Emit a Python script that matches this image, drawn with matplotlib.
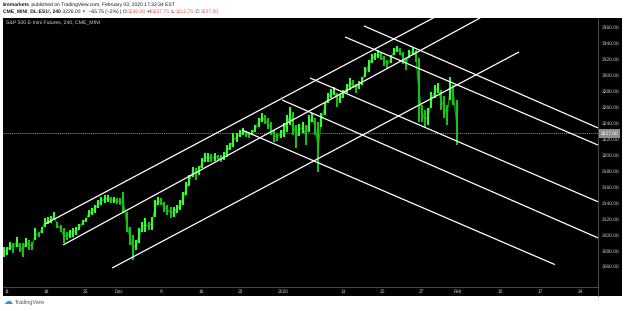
import numpy as np
import matplotlib
matplotlib.use('Agg')
import matplotlib.pyplot as plt
from matplotlib.patches import Rectangle
from matplotlib.lines import Line2D

plt.rcParams['font.family'] = ['Liberation Sans', 'DejaVu Sans']
plt.rcParams['text.hinting'] = 'no_hinting'

# 240分足を数本ずつまとめた高値・安値 (11月11日〜1月31日)
highs = [3085, 3085, 3091, 3090, 3097, 3090, 3090, 3096, 3093, 3091,
         3108, 3103, 3110, 3121, 3122, 3123, 3128, 3116, 3112, 3108,
         3103, 3106, 3108, 3110, 3113, 3118, 3121, 3131, 3133, 3137,
         3144, 3147, 3150, 3150, 3147, 3147, 3146, 3146, 3154, 3128,
         3110, 3100, 3093, 3108, 3116, 3121, 3116, 3122, 3144, 3147,
         3146, 3141, 3137, 3135, 3135, 3137, 3144, 3154, 3166, 3175,
         3185, 3184, 3186, 3196, 3203, 3203, 3201, 3203, 3200, 3200,
         3204, 3213, 3215, 3228, 3228, 3231, 3234, 3230, 3229, 3231,
         3238, 3246, 3253, 3250, 3246, 3241, 3231, 3228, 3231, 3240,
         3250, 3260, 3254, 3238, 3239, 3241, 3238, 3250, 3253, 3246,
         3241, 3253, 3267, 3278, 3283, 3285, 3278, 3277, 3282, 3289,
         3297, 3294, 3289, 3293, 3298, 3310, 3319, 3327, 3328, 3332,
         3329, 3324, 3319, 3325, 3334, 3337, 3334, 3329, 3322, 3332,
         3335, 3332, 3322, 3263, 3256, 3259, 3279, 3288, 3290, 3282,
         3274, 3263, 3298, 3288, 3269]
lows = [3072, 3075, 3081, 3077, 3085, 3078, 3072, 3085, 3081, 3081,
        3093, 3097, 3102, 3110, 3113, 3115, 3118, 3108, 3103, 3090,
        3093, 3096, 3097, 3100, 3106, 3112, 3116, 3122, 3125, 3127,
        3134, 3137, 3140, 3141, 3140, 3140, 3139, 3137, 3127, 3103,
        3087, 3068, 3081, 3090, 3103, 3103, 3106, 3106, 3122, 3137,
        3137, 3128, 3125, 3121, 3122, 3127, 3131, 3137, 3150, 3161,
        3172, 3169, 3175, 3184, 3191, 3191, 3191, 3193, 3194, 3191,
        3194, 3198, 3206, 3210, 3216, 3223, 3225, 3223, 3221, 3225,
        3229, 3235, 3241, 3239, 3233, 3225, 3216, 3218, 3221, 3223,
        3229, 3238, 3225, 3209, 3224, 3228, 3213, 3229, 3241, 3225,
        3179, 3235, 3250, 3265, 3272, 3275, 3260, 3265, 3272, 3278,
        3282, 3284, 3278, 3283, 3288, 3298, 3304, 3315, 3319, 3322,
        3319, 3312, 3309, 3315, 3325, 3329, 3325, 3314, 3307, 3322,
        3325, 3317, 3241, 3241, 3234, 3238, 3259, 3272, 3278, 3257,
        3246, 3238, 3269, 3263, 3213]
last_price = 3227.0

# 日付ラベル(バー番号での位置)
date_labels = ['11', '18', '25', 'Dec', '9', '16', '23', '2020',
               '13', '20', '27', 'Feb', '10', '17', '24']
date_pos = [1.0, 13.4, 25.8, 36.6, 50.0, 62.7, 75.1, 88.8,
            107.9, 120.3, 132.7, 144.4, 157.8, 170.5, 183.3]
price_ticks = list(range(3060, 3361, 20))

# 上昇チャネル (始点, 終点)
rising_lines = [((13.1, 3113.4), (140.0, 3379.0)),
                ((18.8, 3087.1), (151.5, 3372.0)),
                ((34.4, 3058.2), (163.9, 3329.3))]
# 下降ライン
falling_lines = [((114.5, 3362.0), (189.0, 3234.0)),
                 ((108.5, 3348.1), (189.0, 3212.5)),
                 ((97.4, 3296.6), (189.0, 3141.3)),
                 ((88.5, 3269.0), (189.0, 3096.0)),
                 ((75.7, 3231.4), (175.3, 3062.5))]

W, H = 625, 311
fig = plt.figure(figsize=(W / 100, H / 100), dpi=100)
fig.patch.set_facecolor('white')
fig.patches.append(Rectangle((3 / W, 15 / H), 619 / W, 278.5 / H,
                             transform=fig.transFigure, facecolor='black',
                             edgecolor='none', zorder=-5))

ax = fig.add_axes([3 / W, 24 / H, 595 / W, 269.5 / H])
ax.set_zorder(2)
ax.set_facecolor('black')

hi = np.array(highs, dtype=float)
lo = np.array(lows, dtype=float)
x = np.arange(len(hi))
mid = (hi + lo) / 2
up = np.r_[True, np.diff(mid) >= 0]

ax.plot(x, mid, color='#0b9a0b', lw=0.9, zorder=2)
ax.vlines(x[up], lo[up], hi[up], color='#33ff33', lw=1.5, zorder=3)
ax.vlines(x[~up], lo[~up], hi[~up], color='#18c018', lw=1.5, zorder=3)

for (a, b) in rising_lines + falling_lines:
    ax.plot([a[0], b[0]], [a[1], b[1]], color='white', lw=0.9, zorder=4,
            solid_capstyle='butt')

ax.axhline(last_price, color='#8c8c8c', lw=0.6, ls=(0, (1.5, 1)), zorder=1)

ax.set_xlim(-0.3, 189.0)
ax.set_ylim(3034.4, 3372.5)

ax.set_xticks(date_pos, date_labels)
ax.tick_params(axis='x', length=0, pad=1.6, labelsize=3.5, labelcolor='#cfcfcf')
ax.yaxis.tick_right()
ax.set_yticks(price_ticks, [f'{v:.2f}' for v in price_ticks])
ax.tick_params(axis='y', length=0, pad=3, labelsize=3.5, labelcolor='#cfcfcf')
for s in ['top', 'left']:
    ax.spines[s].set_visible(False)
for s in ['bottom', 'right']:
    ax.spines[s].set_color('#555555')
    ax.spines[s].set_linewidth(0.6)

ax.text(1.004, last_price, '3227.00', transform=ax.get_yaxis_transform(),
        ha='left', va='center', fontsize=3.5, color='white', zorder=6,
        clip_on=False,
        bbox=dict(boxstyle='square,pad=0.35', fc='#8d8d8d', ec='none'))

fig.add_artist(Line2D([598 / W, 598 / W], [15 / H, 24 / H],
                      transform=fig.transFigure, color='#555555', lw=0.6))

# チャートタイトル
fig.text(6 / W, (H - 23) / H, 'S&P 500 E-mini Futures, 240, CME_MINI',
         color='#d8d8d8', fontsize=3.7, va='center', ha='left', zorder=5)

# ヘッダー
fig.canvas.draw()
renderer = fig.canvas.get_renderer()


def write_line(segments, x0, y, size):
    xx = x0
    for s, color, weight in segments:
        t = fig.text(xx, y, s, color=color, fontsize=size, fontweight=weight,
                     family='Liberation Sans', va='center', ha='left')
        bb = t.get_window_extent(renderer)
        xx = bb.x1 / fig.bbox.width


red = '#ef5350'
dark = '#131722'
write_line([('firemarkets', dark, 'bold'),
            (' published on TradingView.com, February 03, 2020 17:32:34 EST', dark, 'normal')],
           3 / W, (H - 5) / H, 3.6)
write_line([('CME_MINI_DL:ES1!, 240', dark, 'bold'),
            (' 3226.00', dark, 'normal'),
            (' \u25bc', red, 'normal'),
            (' \u221265.75 (\u22122%) | O:', dark, 'normal'),
            ('3230.00', red, 'normal'),
            (' H:', dark, 'normal'),
            ('3237.75', red, 'normal'),
            (' L:', dark, 'normal'),
            ('3212.75', red, 'normal'),
            (' C:', dark, 'normal'),
            ('3227.00', red, 'normal')],
           3 / W, (H - 11.5) / H, 3.6)

# ロゴ
fig.text(4 / W, (H - 302) / H, '\u2601', color='#2196f3', fontsize=6.5,
         family='DejaVu Sans', va='center', ha='left')
fig.text(15 / W, (H - 302) / H, 'TradingView', color='#555555', fontsize=4.0,
         va='center', ha='left')

fig.savefig('out.png', dpi=100, facecolor='white')
